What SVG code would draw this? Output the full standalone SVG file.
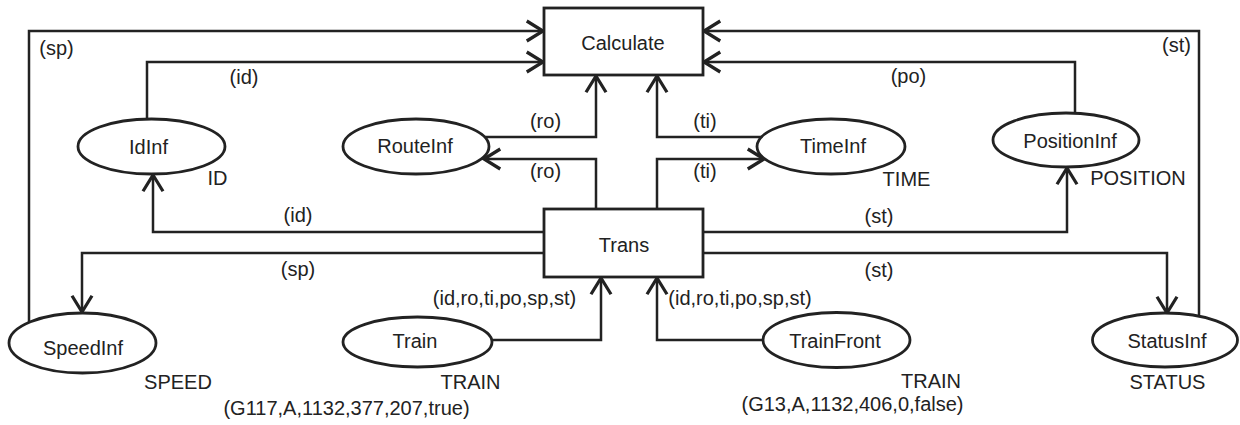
<svg xmlns="http://www.w3.org/2000/svg" width="1240" height="425" viewBox="0 0 1240 425">
<defs>
<marker id="arr" markerUnits="userSpaceOnUse" markerWidth="30" markerHeight="30" viewBox="-16 -12 20 24" refX="0" refY="0" orient="auto">
<path d="M-13,-8 L0,0 L-13,8" fill="none" stroke="#222" stroke-width="2.6" stroke-linejoin="miter"/>
</marker>
</defs>
<style>
text{font-family:"Liberation Sans",Arial,sans-serif;font-size:20px;fill:#222;text-anchor:middle}
.n{fill:#fff;stroke:#222;stroke-width:2.8}
.c path{fill:none;stroke:#222;stroke-width:2.5;marker-end:url(#arr)}
</style>
<rect width="1240" height="425" fill="#fff"/>
<g class="c" id="connectors">
<path d="M29,322 V31 H543"/>
<path d="M147,119 V62 H543"/>
<path d="M484,137 H596 V76"/>
<path d="M762,137 H657 V76"/>
<path d="M1075,113 V62 H704"/>
<path d="M1199,316 V31 H704"/>
<path d="M544,232 H153 V175"/>
<path d="M544,253 H82 V312"/>
<path d="M596,209 V159 H484"/>
<path d="M657,209 V159 H764"/>
<path d="M703,232 H1067 V168"/>
<path d="M703,253 H1167 V313"/>
<path d="M492,340 H601 V278"/>
<path d="M763,340 H657 V278"/>
<text x="56.5" y="55">(sp)</text>
<text x="244" y="84">(id)</text>
<text x="545.5" y="128">(ro)</text>
<text x="545.5" y="178">(ro)</text>
<text x="705" y="128">(ti)</text>
<text x="705" y="178">(ti)</text>
<text x="908.5" y="83">(po)</text>
<text x="1176.5" y="51.5">(st)</text>
<text x="298" y="222">(id)</text>
<text x="298" y="276">(sp)</text>
<text x="879" y="223">(st)</text>
<text x="879" y="277">(st)</text>
<text x="504.5" y="305">(id,ro,ti,po,sp,st)</text>
<text x="740" y="305">(id,ro,ti,po,sp,st)</text>
</g>
<g id="Calculate"><rect class="n" x="544" y="8" width="159" height="67"/><text x="623" y="50">Calculate</text></g>
<g id="Trans"><rect class="n" x="544" y="209" width="159" height="68"/><text x="624" y="252">Trans</text></g>
<g id="IdInf"><ellipse class="n" cx="151.5" cy="146.5" rx="73.5" ry="27.5"/><text x="148.5" y="154">IdInf</text><text x="217.5" y="185">ID</text></g>
<g id="RouteInf"><ellipse class="n" cx="416" cy="146.5" rx="73" ry="27.5"/><text x="415" y="153">RouteInf</text></g>
<g id="TimeInf"><ellipse class="n" cx="831" cy="146.5" rx="74" ry="27.5"/><text x="833" y="153">TimeInf</text><text x="906.5" y="186">TIME</text></g>
<g id="PositionInf"><ellipse class="n" cx="1066" cy="140" rx="73" ry="27"/><text x="1070" y="148">PositionInf</text><text x="1138" y="185">POSITION</text></g>
<g id="SpeedInf"><ellipse class="n" cx="82.5" cy="343" rx="73.5" ry="30"/><text x="83" y="355">SpeedInf</text><text x="178" y="389">SPEED</text></g>
<g id="Train"><ellipse class="n" cx="417.5" cy="342" rx="74.5" ry="25"/><text x="415" y="348">Train</text><text x="470.5" y="389">TRAIN</text><text x="346.5" y="415">(G117,A,1132,377,207,true)</text></g>
<g id="TrainFront"><ellipse class="n" cx="836.5" cy="340" rx="73.5" ry="27.5"/><text x="835" y="348">TrainFront</text><text x="931" y="388">TRAIN</text><text x="852.5" y="411">(G13,A,1132,406,0,false)</text></g>
<g id="StatusInf"><ellipse class="n" cx="1165" cy="340" rx="72.5" ry="27"/><text x="1167" y="348">StatusInf</text><text x="1167.5" y="389">STATUS</text></g>
</svg>
